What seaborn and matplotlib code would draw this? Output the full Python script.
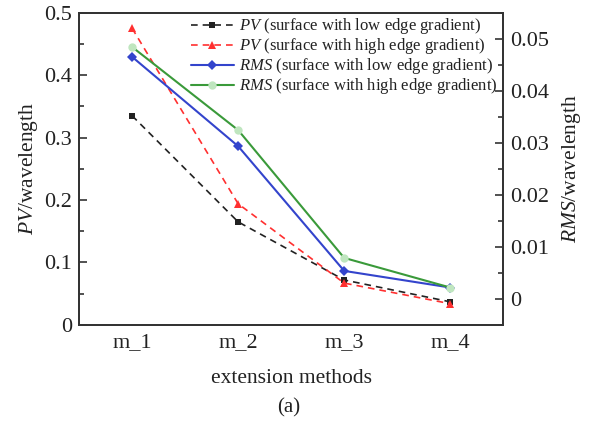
import matplotlib
matplotlib.use("Agg")
import matplotlib.pyplot as plt
from matplotlib.ticker import FixedLocator, MultipleLocator
import seaborn as sns
import pandas as pd

methods = ["m_1", "m_2", "m_3", "m_4"]
pv_low = [0.335, 0.165, 0.072, 0.037]
pv_high = [0.475, 0.194, 0.067, 0.034]
rms_low = [0.0466, 0.0294, 0.0054, 0.0022]
rms_high = [0.0485, 0.0325, 0.0079, 0.0022]

sns.set_theme(style="white")
plt.rcParams["font.family"] = ["Liberation Serif", "DejaVu Serif"]
plt.rcParams["mathtext.fontset"] = "custom"
plt.rcParams["mathtext.rm"] = "Liberation Serif"
plt.rcParams["mathtext.it"] = "Liberation Serif:italic"

pos = [1, 2, 3, 4]
df = pd.DataFrame({"pos": pos, "pv_low": pv_low, "pv_high": pv_high,
                   "rms_low": rms_low, "rms_high": rms_high})

fig = plt.figure(figsize=(5.9, 4.22), dpi=100)
ax = fig.add_axes([0.134, 0.230, 0.719, 0.740])
ax2 = ax.twinx()

sns.lineplot(data=df, x="pos", y="pv_low", ax=ax, color="#222222", linestyle=(0, (4, 3)),
             marker="s", markersize=5, markeredgewidth=0, lw=1.2,
             label=r"$\mathit{PV}$ (surface with low edge gradient)")
sns.lineplot(data=df, x="pos", y="pv_high", ax=ax, color="#ff3030", linestyle=(0, (4, 3)),
             marker="^", markersize=6, markeredgewidth=0, lw=1.2,
             label=r"$\mathit{PV}$ (surface with high edge gradient)")
sns.lineplot(data=df, x="pos", y="rms_low", ax=ax2, color="#3344cc", linestyle="-",
             marker="D", markersize=5, markeredgewidth=0, lw=1.5,
             label=r"$\mathit{RMS}$ (surface with low edge gradient)")
sns.lineplot(data=df, x="pos", y="rms_high", ax=ax2, color="#3a9a3a", linestyle="-",
             marker="o", markersize=6, markeredgewidth=0, markerfacecolor="#bfe6bf", lw=1.5,
             label=r"$\mathit{RMS}$ (surface with high edge gradient)")

ax.set_xlim(0.5, 4.5)
ax.set_ylim(0, 0.5)
ax2.set_ylim(-0.005, 0.0551)

ax.xaxis.set_major_locator(FixedLocator(pos))
ax.set_xticklabels(methods)
ax.xaxis.set_minor_locator(FixedLocator([1.5, 2.5, 3.5]))
ax.yaxis.set_major_locator(FixedLocator([0, 0.1, 0.2, 0.3, 0.4, 0.5]))
ax.set_yticklabels(["0", "0.1", "0.2", "0.3", "0.4", "0.5"])
ax.yaxis.set_minor_locator(MultipleLocator(0.05))
ax2.yaxis.set_major_locator(FixedLocator([0, 0.01, 0.02, 0.03, 0.04, 0.05]))
ax2.set_yticklabels(["0", "0.01", "0.02", "0.03", "0.04", "0.05"])
ax2.yaxis.set_minor_locator(MultipleLocator(0.005))

for a in (ax, ax2):
    for s in a.spines.values():
        s.set_color("#333333")
        s.set_linewidth(1.3)
ax.tick_params(axis="both", which="major", direction="in", length=6, width=1.2,
               labelsize=16, colors="#333333", labelcolor="#222222", pad=5)
ax.tick_params(axis="both", which="minor", direction="in", length=3.5, width=1.2, colors="#333333")
ax.tick_params(axis="x", which="both", top=False, pad=6)
ax.tick_params(axis="y", which="both", right=False)
ax2.tick_params(axis="y", which="major", direction="in", length=6, width=1.2,
                labelsize=16, colors="#333333", labelcolor="#222222", pad=5)
ax2.tick_params(axis="y", which="minor", direction="in", length=3.5, width=1.2, colors="#333333")

ax.set_xlabel("extension methods", fontsize=15.5, color="#222222", labelpad=12)
ax.set_ylabel(r"$\mathit{PV}$/wavelength", fontsize=15.5, color="#222222", labelpad=3)
ax2.set_ylabel(r"$\mathit{RMS}$/wavelength", fontsize=15.5, color="#222222", labelpad=8)
fig.text(0.49, 0.01, "(a)", ha="center", va="bottom", fontsize=15, color="#222222")

h1, l1 = ax.get_legend_handles_labels()
h2, l2 = ax2.get_legend_handles_labels()
if ax.get_legend() is not None:
    ax.get_legend().remove()
ax2.legend(h1 + h2, l1 + l2, loc="upper right", bbox_to_anchor=(1.01, 1.02), frameon=False,
           fontsize=12, handlelength=2.6, handletextpad=0.3, labelspacing=0.0,
           borderaxespad=0.2)
for t in ax2.get_legend().get_texts():
    t.set_color("#222222")

fig.savefig("out.png", dpi=100)
